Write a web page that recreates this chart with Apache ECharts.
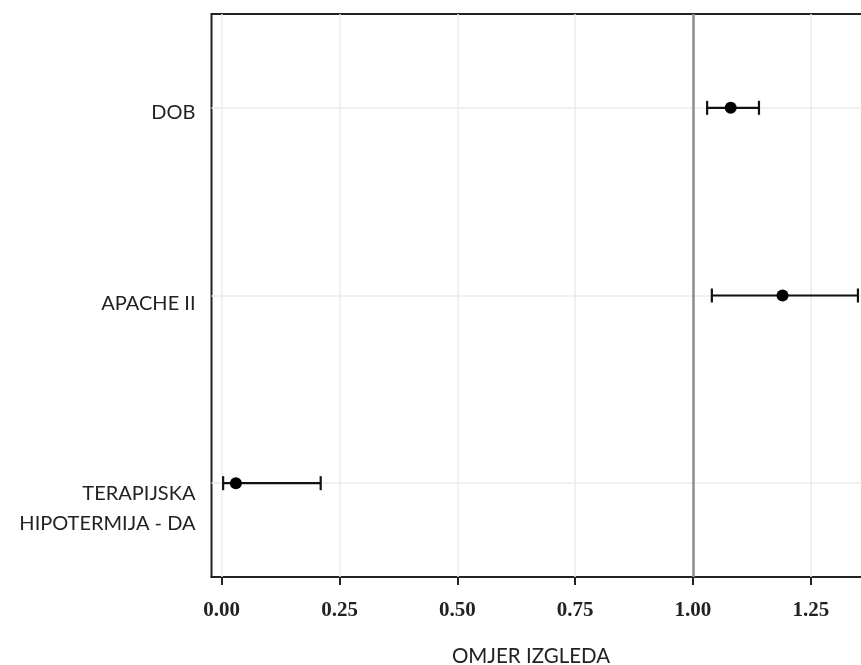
<!DOCTYPE html>
<html>
<head>
<meta charset="utf-8">
<script src="https://cdn.jsdelivr.net/npm/echarts@6/dist/echarts.min.js"></script>
<style>html,body{margin:0;padding:0;background:#fff;overflow:hidden;width:861px;height:665px;}#c{width:882px;height:665px;}</style>
</head>
<body>
<div id="c"></div>
<script>
var categories = ['DOB', 'APACHE II', 'TERAPIJSKA\nHIPOTERMIJA - DA'];
var oddsRatio = [1.08, 1.19, 0.03];
var ciLow = [1.03, 1.04, 0.003];
var ciHigh = [1.14, 1.35, 0.21];
var xTicks = [0, 0.25, 0.5, 0.75, 1.0, 1.25];
var refValue = 1.0;
var xTitle = 'OMJER IZGLEDA';

var chart = echarts.init(document.getElementById('c'));

var errData = categories.map(function (c, i) { return [i, ciLow[i], ciHigh[i]]; });
var ptData = categories.map(function (c, i) { return [oddsRatio[i], c]; });

var vLines = xTicks.filter(function (t) { return t !== refValue; }).map(function (t) { return { xAxis: t }; });
var hLines = categories.map(function (c) { return { yAxis: c }; });

var spacerNames = ['s0', 's1', 's2'];

var option = {
  animation: false,
  backgroundColor: '#fff',
  title: {
    text: xTitle,
    left: 526,
    top: 641,
    textAlign: 'center',
    textStyle: { fontFamily: 'Lato', fontSize: 20.5, fontWeight: 'normal', color: '#222' }
  },
  grid: { left: 211.5, right: 0.5, top: 14, bottom: 88, show: true, borderColor: '#222', borderWidth: 2, backgroundColor: 'transparent' },
  xAxis: {
    type: 'value',
    min: -0.0217,
    max: 1.4,
    axisLine: { show: true, lineStyle: { color: '#222', width: 2 } },
    axisTick: { show: true, customValues: xTicks, length: 8, lineStyle: { color: '#222', width: 2 } },
    axisLabel: {
      customValues: xTicks,
      margin: 23,
      fontFamily: 'Liberation Serif', fontSize: 21, fontWeight: 'bold', color: '#222',
      formatter: function (v) { return v.toFixed(2); }
    },
    splitLine: { show: false }
  },
  yAxis: {
    type: 'category',
    inverse: true,
    data: categories,
    axisLine: { show: false },
    axisTick: { show: false },
    splitLine: { show: false },
    axisLabel: {
      margin: 16,
      fontFamily: 'Lato', fontSize: 20, color: '#222',
      formatter: function (v, i) {
        var lines = v.split('\n').map(function (l) { return '{t' + i + '|' + l + '}'; });
        return '{' + spacerNames[i] + '| }\n' + lines.join('\n');
      },
      rich: {
        s0: { fontSize: 4, lineHeight: 10 },
        s1: { fontSize: 4, lineHeight: 16 },
        s2: { fontSize: 4, lineHeight: 51 },
        t0: { fontFamily: 'Lato', fontSize: 20, color: '#222', lineHeight: 24 },
        t1: { fontFamily: 'Lato', fontSize: 20, color: '#222', lineHeight: 24 },
        t2: { fontFamily: 'Lato', fontSize: 20, color: '#222', lineHeight: 30 }
      }
    }
  },
  series: [
    {
      type: 'custom',
      name: 'ci',
      data: errData,
      encode: { x: [1, 2], y: 0 },
      z: 5,
      renderItem: function (params, api) {
        var idx = api.value(0);
        var p1 = api.coord([api.value(1), idx]);
        var p2 = api.coord([api.value(2), idx]);
        var h = 7;
        var st = { stroke: '#111', lineWidth: 2.2 };
        return {
          type: 'group',
          children: [
            { type: 'line', shape: { x1: p1[0], y1: p1[1], x2: p2[0], y2: p2[1] }, style: st },
            { type: 'line', shape: { x1: p1[0], y1: p1[1] - h, x2: p1[0], y2: p1[1] + h }, style: st },
            { type: 'line', shape: { x1: p2[0], y1: p2[1] - h, x2: p2[0], y2: p2[1] + h }, style: st }
          ]
        };
      }
    },
    {
      type: 'scatter',
      name: 'or',
      data: ptData,
      symbol: 'circle',
      symbolSize: 12,
      itemStyle: { color: '#000', opacity: 1 },
      z: 6,
      markLine: {
        silent: true,
        symbol: 'none',
        label: { show: false },
        z: 1,
        data: vLines.concat(hLines).map(function (d) {
          return Object.assign({ lineStyle: { color: '#ebebeb', width: 1.5, type: 'solid' } }, d);
        }).concat([{ xAxis: refValue, lineStyle: { color: '#8c8c8c', width: 2.5, type: 'solid' } }])
      }
    }
  ]
};
chart.setOption(option);
</script>
</body>
</html>
